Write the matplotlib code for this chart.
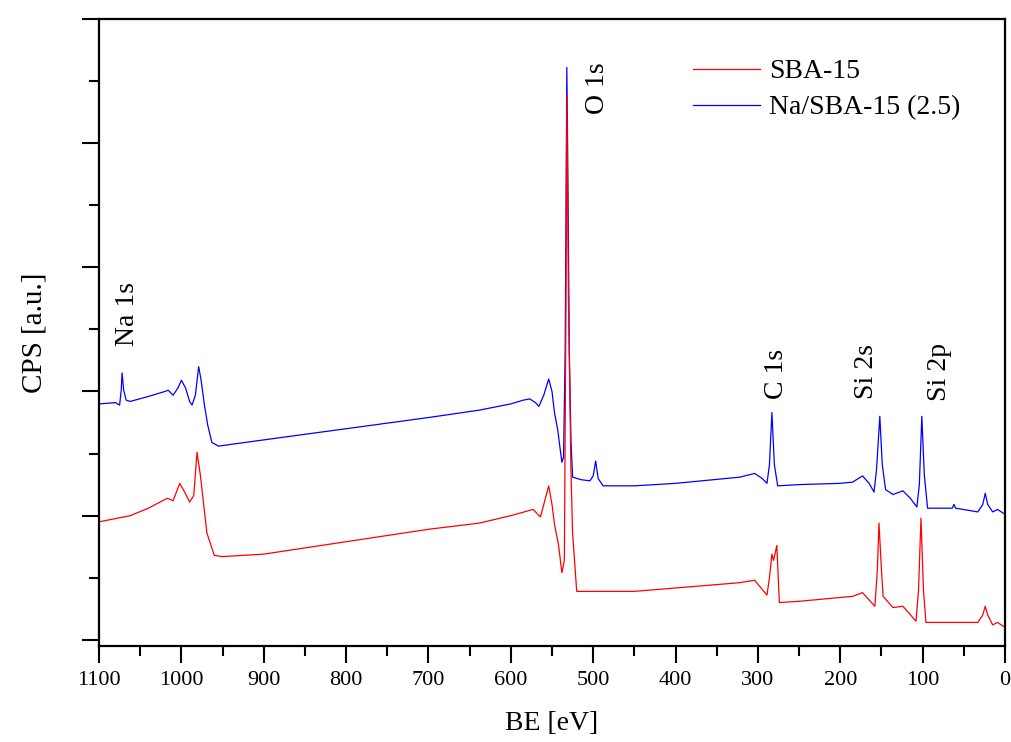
import matplotlib
matplotlib.use("Agg")
import matplotlib.pyplot as plt
from matplotlib.ticker import MultipleLocator

plt.rcParams['font.family'] = ['Liberation Serif', 'DejaVu Serif']

# Binding energy (eV) and intensity (a.u.)
be_na = [1100, 1080, 1075, 1073, 1072, 1070, 1067, 1062, 1040, 1020, 1016, 1010, 1004, 1000,
         995, 990, 987, 983, 979, 976, 972, 968, 963, 955, 900, 800, 700, 638, 600, 585, 577,
         570, 566, 560, 554, 550, 547, 543, 540, 538, 536, 534, 532, 531, 529, 527, 525, 515,
         504, 500, 497, 494, 488, 450, 400, 322, 304, 295, 289, 286, 283, 280, 276, 250, 200,
         185, 173, 165, 159, 156, 152, 149, 145, 136, 124, 115, 107, 104, 101, 98, 94, 64,
         62, 60, 33, 27, 24, 21, 15, 9, 0]
cps_na = [1.90, 1.91, 1.89, 2.01, 2.15, 2.01, 1.93, 1.92, 1.96, 2.00, 2.01, 1.97, 2.03, 2.09,
          2.03, 1.92, 1.89, 1.97, 2.20, 2.09, 1.89, 1.73, 1.59, 1.56, 1.61, 1.70, 1.79, 1.85, 1.90, 1.93, 1.94,
          1.91, 1.88, 1.97, 2.10, 2.00, 1.83, 1.69, 1.53, 1.43, 1.47, 2.33, 4.61, 3.95, 2.33, 1.61, 1.31, 1.29,
          1.28, 1.32, 1.44, 1.30, 1.24, 1.24, 1.26, 1.31, 1.34, 1.30, 1.26, 1.41, 1.83, 1.41, 1.24, 1.25, 1.26,
          1.27, 1.32, 1.26, 1.19, 1.37, 1.80, 1.41, 1.21, 1.17, 1.20, 1.14, 1.07, 1.25, 1.80, 1.33, 1.06, 1.06,
          1.09, 1.06, 1.03, 1.09, 1.18, 1.09, 1.03, 1.05, 1.01]

be_sba = [1100, 1062, 1040, 1017, 1010, 1002, 996, 990, 985, 981, 977, 969, 960, 950, 900, 800,
          700, 638, 600, 573, 564, 554, 550, 547, 542, 538, 535, 533, 532, 530, 527, 525, 520,
          450, 395, 322, 304, 289, 286, 283, 281, 277, 274, 250, 185, 173, 158, 155, 153, 150,
          148, 136, 124, 108, 105, 102, 99, 96, 64, 33, 27, 24, 21, 15, 9, 0]
cps_sba = [0.95, 1.00, 1.06, 1.14, 1.12, 1.26, 1.19, 1.11, 1.16, 1.51, 1.33, 0.86, 0.68, 0.67, 0.69, 0.79,
           0.89, 0.94, 1.00, 1.05, 0.99, 1.24, 1.09, 0.93, 0.76, 0.54, 0.64, 2.74, 4.39, 2.74, 1.37, 0.86, 0.39,
           0.39, 0.42, 0.46, 0.48, 0.36, 0.50, 0.69, 0.64, 0.76, 0.30, 0.31, 0.35, 0.38, 0.27, 0.56, 0.94, 0.56,
           0.35, 0.26, 0.27, 0.15, 0.40, 0.98, 0.40, 0.14, 0.14, 0.14, 0.20, 0.27, 0.20, 0.12, 0.14, 0.10]

peak_labels = ["Na 1s", "O 1s", "C 1s", "Si 2s", "Si 2p"]
peak_x = [1066, 495, 278, 168, 79]
peak_y = [2.62, 4.44, 2.14, 2.16, 2.16]

fig = plt.figure(figsize=(10.11, 7.42), dpi=100)
ax = fig.add_axes([99/1011, 1 - 646/742, (1005 - 99)/1011, (646 - 19)/742])

l_na, = ax.plot(be_na, cps_na, color='#0000ff', lw=0.9)
l_sba, = ax.plot(be_sba, cps_sba, color='#ff0000', lw=0.9)

ax.set_xlim(1100, 0)
ax.set_ylim(-0.05, 5.0)
ax.xaxis.set_major_locator(MultipleLocator(100))
ax.xaxis.set_minor_locator(MultipleLocator(50))
ax.yaxis.set_major_locator(MultipleLocator(1))
ax.yaxis.set_minor_locator(MultipleLocator(0.5))
ax.tick_params(axis='y', which='both', labelleft=False)
ax.tick_params(which='major', length=12, width=1.5, direction='out')
ax.tick_params(which='minor', length=7, width=1.5, direction='out')
ax.tick_params(axis='x', labelsize=16, pad=6)
for s in ax.spines.values():
    s.set_linewidth(1.6)

ax.set_xlabel("BE [eV]", fontsize=20, labelpad=15)
ax.set_ylabel("CPS [a.u.]", fontsize=21, labelpad=25)

for t, x, y in zip(peak_labels, peak_x, peak_y):
    ax.text(x, y, t, rotation=90, fontsize=20, ha='center', va='center')

ax.legend([l_sba, l_na], ["SBA-15", "Na/SBA-15 (2.5)"], loc='upper left',
          bbox_to_anchor=(693/1011, 1 - 59/742), bbox_transform=fig.transFigure,
          frameon=False, fontsize=20, handlelength=2.4, handletextpad=0.35,
          labelspacing=0.38, borderpad=0, borderaxespad=0)

fig.savefig("out.png", dpi=100)
